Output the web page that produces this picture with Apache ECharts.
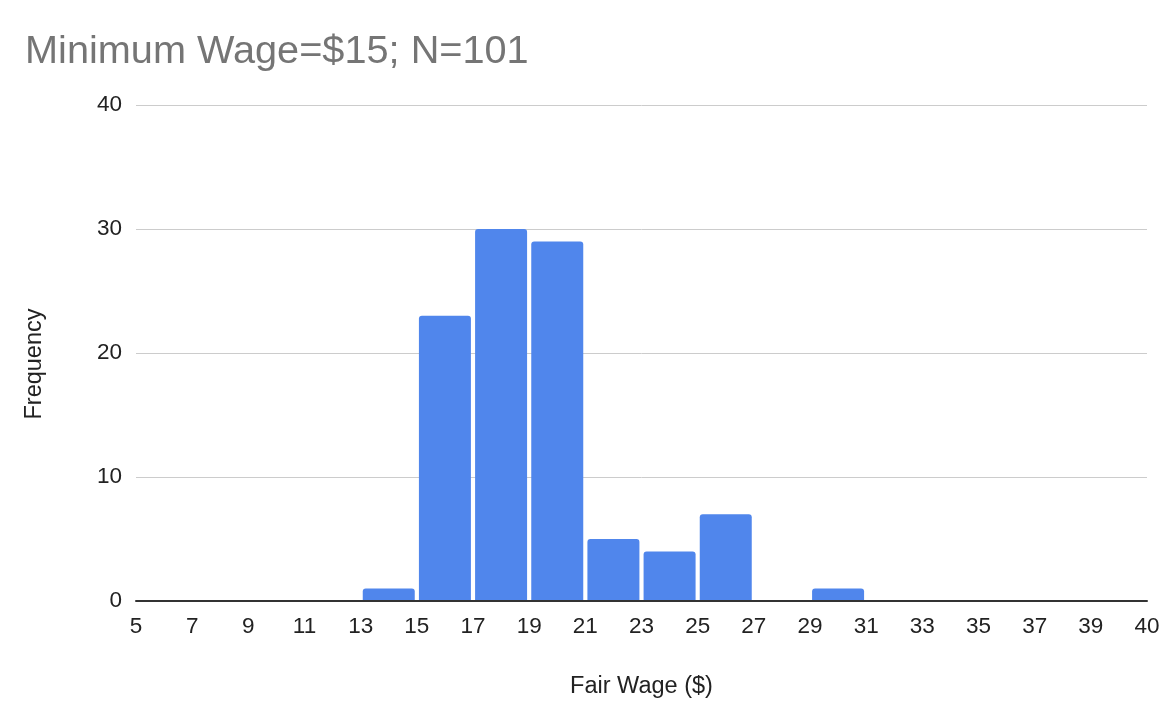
<!DOCTYPE html>
<html>
<head>
<meta charset="utf-8">
<script src="https://cdn.jsdelivr.net/npm/echarts@6/dist/echarts.min.js"></script>
<style>
  html, body { margin: 0; padding: 0; background: #fff; }
  #main { width: 1174px; height: 708px; }
</style>
</head>
<body>
<div id="main"></div>
<script>
// bin edges shown under the axis (5,7,...,39 then 40)
var tickLabels = ['5', '7', '9', '11', '13', '15', '17', '19', '21', '23', '25',
                  '27', '29', '31', '33', '35', '37', '39', '40'];
// count in each bin, one per gap between tick labels
var counts = [0, 0, 0, 0, 1, 23, 30, 29, 5, 4, 7, 0, 1, 0, 0, 0, 0, 0];
var yTicks = [0, 10, 20, 30, 40];

var chart = echarts.init(document.getElementById('main'));
var font = 'Liberation Sans, Arial, sans-serif';

var option = {
    backgroundColor: '#fff',
    animation: false,
    title: {
        text: 'Minimum Wage=$15; N=101',
        left: 20,
        top: 27,
        textStyle: {
            fontFamily: font,
            fontSize: 39.7,
            fontWeight: 'normal',
            color: '#757575'
        }
    },
    grid: {
        left: 136,
        right: 27,
        top: 105,
        bottom: 107
    },
    xAxis: {
        type: 'value',
        min: 0,
        max: counts.length,
        interval: 1,
        z: 5,
        name: 'Fair Wage ($)',
        nameLocation: 'middle',
        nameGap: 74,
        nameTextStyle: { fontFamily: font, fontSize: 23.5, color: '#222' },
        axisLine: { show: true, onZero: false, lineStyle: { color: '#333', width: 2 } },
        axisTick: { show: false },
        splitLine: { show: false },
        axisLabel: {
            margin: 14,
            fontFamily: font,
            fontSize: 22.5,
            color: '#222',
            formatter: function (v) { return tickLabels[v]; }
        }
    },
    yAxis: {
        type: 'value',
        min: yTicks[0],
        max: yTicks[yTicks.length - 1],
        interval: 10,
        name: 'Frequency',
        nameLocation: 'middle',
        nameGap: 89,
        nameTextStyle: {
            fontFamily: font,
            fontSize: 23.5,
            color: '#222',
            padding: [0, 22, 0, 0]
        },
        axisLine: { show: false },
        axisTick: { show: false },
        splitLine: { lineStyle: { color: '#cccccc', width: 1 } },
        axisLabel: {
            margin: 14,
            fontFamily: font,
            fontSize: 22.5,
            color: '#222'
        }
    },
    series: [{
        type: 'bar',
        barWidth: 52,
        data: counts.map(function (c, i) { return [i + 0.5, c]; }),
        itemStyle: {
            color: '#5086ec',
            borderRadius: [3, 3, 0, 0]
        }
    }]
};

chart.setOption(option);
</script>
</body>
</html>
